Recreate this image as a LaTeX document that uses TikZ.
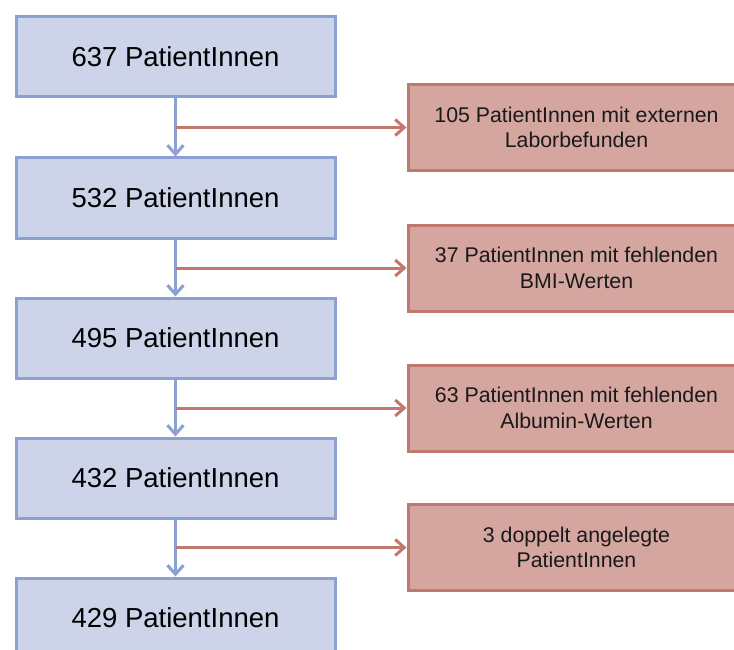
\documentclass[tikz,border=0pt]{standalone}
\usepackage{fontspec}
\setmainfont{Liberation Sans}
\usetikzlibrary{arrows.meta}
\definecolor{bfill}{RGB}{205,212,234}
\definecolor{bdraw}{RGB}{140,160,210}
\definecolor{rfill}{RGB}{213,166,159}
\definecolor{rdraw}{RGB}{193,121,110}
\begin{document}
\begin{tikzpicture}[x=1pt,y=-1pt,
  bluebox/.style={draw=bdraw,fill=bfill,line width=3pt,minimum width=319pt,minimum height=80pt,inner sep=0pt,
    font=\fontsize{27.5}{31}\selectfont},
  redbox/.style={draw=rdraw,fill=rfill,line width=3pt,minimum width=337pt,minimum height=86pt,inner sep=0pt,
    align=center,font=\fontsize{21.3}{25.5}\selectfont,text=black!90},
  bluearrow/.style={draw=bdraw,line width=3pt,-{Straight Barb[length=9pt,width=16pt,line width=3pt]}},
  redarrow/.style={draw=rdraw,line width=3pt,-{Straight Barb[length=9pt,width=16pt,line width=3pt]}}]
\useasboundingbox (0,0) rectangle (734,650);
\clip (0,0) rectangle (734,650);
\node[bluebox] (b1) at (175.5,57) {637 PatientInnen};
\node[bluebox] (b2) at (175.5,198) {532 PatientInnen};
\node[bluebox] (b3) at (175.5,338) {495 PatientInnen};
\node[bluebox] (b4) at (175.5,478) {432 PatientInnen};
\node[bluebox] (b5) at (175.5,618) {429 PatientInnen};
\node[redbox] (r1) at (576.5,127.5) {105 PatientInnen mit externen\\Laborbefunden};
\node[redbox] (r2) at (576.5,268) {37 PatientInnen mit fehlenden\\BMI-Werten};
\node[redbox] (r3) at (576.5,408) {63 PatientInnen mit fehlenden\\Albumin-Werten};
\node[redbox] (r4) at (576.5,547.5) {3 doppelt angelegte\\PatientInnen};
\draw[bluearrow] (b1) -- (b2);
\draw[bluearrow] (b2) -- (b3);
\draw[bluearrow] (b3) -- (b4);
\draw[bluearrow] (b4) -- (b5);
\draw[redarrow] (b1.center |- r1.west) -- (r1.west);
\draw[redarrow] (b2.center |- r2.west) -- (r2.west);
\draw[redarrow] (b3.center |- r3.west) -- (r3.west);
\draw[redarrow] (b4.center |- r4.west) -- (r4.west);
\end{tikzpicture}
\end{document}
